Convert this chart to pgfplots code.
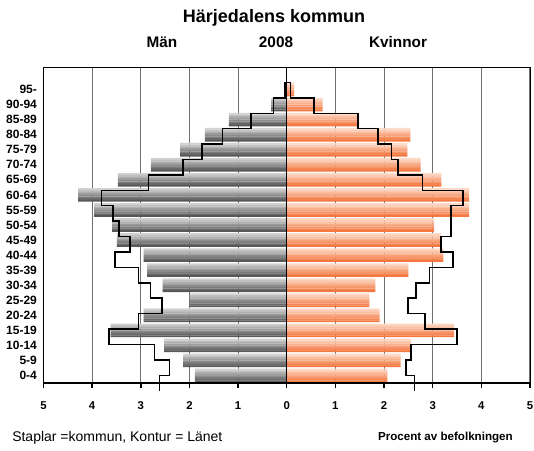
\documentclass[border=0pt]{standalone}
\usepackage{pgfplots}
\usepackage{pgfplotstable}
\pgfplotsset{compat=1.18}
\usepackage{fontspec}
\setmainfont{Liberation Sans}
\definecolor{gridgray}{HTML}{707070}
\definecolor{mtop}{HTML}{D2D2D2}
\definecolor{mbot}{HTML}{585858}
\definecolor{wtop}{HTML}{FDDAC8}
\definecolor{wbot}{HTML}{F47840}
% kommun: men (negative) and women, per age band (0 = 0-4 ... 19 = 95-)
\pgfplotstableread{
pos m w
0 -1.89 2.07
1 -2.13 2.34
2 -2.52 2.55
3 -3.62 3.44
4 -2.94 1.91
5 -1.99 1.70
6 -2.55 1.82
7 -2.87 2.50
8 -2.94 3.22
9 -3.49 3.17
10 -3.59 3.03
11 -3.96 3.75
12 -4.29 3.75
13 -3.47 3.18
14 -2.79 2.75
15 -2.19 2.48
16 -1.68 2.54
17 -1.19 1.49
18 -0.32 0.74
19 -0.01 0.15
}\pyr
% one horizontal stripe of every bar: #1 shift, #2 percent of top colour, #3 column, #4 top colour, #5 bottom colour
\newcommand{\stripe}[5]{\addplot[xbar, draw=none, bar width=0.118, bar shift=#1, fill=#4!#2!#5] table[x=#3, y=pos] {\pyr};}
\newcommand{\gradbars}[3]{%
  \stripe{0.39375}{100}{#1}{#2}{#3}
  \stripe{0.28125}{86}{#1}{#2}{#3}
  \stripe{0.16875}{71}{#1}{#2}{#3}
  \stripe{0.05625}{57}{#1}{#2}{#3}
  \stripe{-0.05625}{43}{#1}{#2}{#3}
  \stripe{-0.16875}{29}{#1}{#2}{#3}
  \stripe{-0.28125}{14}{#1}{#2}{#3}
  \stripe{-0.39375}{0}{#1}{#2}{#3}
}
\begin{document}
\begin{tikzpicture}[x=1pt,y=1pt]
\useasboundingbox (0,0) rectangle (400.5,337.5);
\begin{axis}[
  at={(32.6pt,50.25pt)}, anchor=south west,
  scale only axis, width=364.9pt, height=237pt,
  xmin=-5, xmax=5, ymin=-0.5, ymax=20.5,
  xtick={-5,-4,-3,-2,-1,0,1,2,3,4,5},
  xticklabels={5,4,3,2,1,0,1,2,3,4,5},
  ytick={0,1,2,3,4,5,6,7,8,9,10,11,12,13,14,15,16,17,18,19},
  yticklabels={0-4,5-9,10-14,15-19,20-24,25-29,30-34,35-39,40-44,45-49,50-54,55-59,60-64,65-69,70-74,75-79,80-84,85-89,90-94,95-},
  xmajorgrids, grid style={gridgray, line width=0.8pt},
  axis line style={black, line width=0.6pt},
  xtick pos=bottom, ytick pos=left, tick align=outside,
  major tick length=3.75pt,
  xtick style={black, line width=1.1pt},
  ytick style={draw=none},
  xticklabel style={font=\bfseries\fontsize{8.5}{9}\selectfont, yshift=-7pt},
  yticklabel style={font=\bfseries\fontsize{9}{9}\selectfont, inner sep=1pt},
]
\gradbars{m}{mtop}{mbot}
\gradbars{w}{wtop}{wbot}
\addplot[black, line width=0.8pt] coordinates {(0,-0.5) (0,20.5)};
\draw[black, line width=1.5pt] (rel axis cs:0,0) -- (rel axis cs:1,0);
\end{axis}
\begin{axis}[
  at={(32.6pt,50.25pt)}, anchor=south west,
  scale only axis, width=364.9pt, height=237pt,
  xmin=-5, xmax=5, ymin=0, ymax=20.5,
  axis lines=none, clip=false,
]
% Länet outline
\addplot[black, line width=1.1pt, line join=miter] coordinates {
(-2.62,-0.5)(-2.62,0.5)(-2.41,0.5)(-2.41,1.5)(-2.72,1.5)(-2.72,2.5)(-3.65,2.5)(-3.65,3.5)(-3.05,3.5)(-3.05,4.5)
(-2.56,4.5)(-2.56,5.5)(-2.80,5.5)(-2.80,6.5)(-3.05,6.5)(-3.05,7.5)(-3.53,7.5)(-3.53,8.5)(-3.22,8.5)(-3.22,9.5)
(-3.45,9.5)(-3.45,10.5)(-3.57,10.5)(-3.57,11.5)(-3.81,11.5)(-3.81,12.5)(-2.84,12.5)(-2.84,13.5)(-2.13,13.5)(-2.13,14.5)
(-1.74,14.5)(-1.74,15.5)(-1.32,15.5)(-1.32,16.5)(-0.73,16.5)(-0.73,17.5)(-0.27,17.5)(-0.27,18.5)(-0.04,18.5)(-0.04,19.5)
(0.08,19.5)(0.08,18.5)(0.56,18.5)(0.56,17.5)(1.46,17.5)(1.46,16.5)(1.88,16.5)(1.88,15.5)(2.15,15.5)(2.15,14.5)
(2.29,14.5)(2.29,13.5)(2.79,13.5)(2.79,12.5)(3.62,12.5)(3.62,11.5)(3.38,11.5)(3.38,9.5)(3.17,9.5)(3.17,8.5)
(3.42,8.5)(3.42,7.5)(2.93,7.5)(2.93,6.5)(2.66,6.5)(2.66,5.5)(2.49,5.5)(2.49,4.5)(2.84,4.5)(2.84,3.5)
(3.50,3.5)(3.50,2.5)(2.55,2.5)(2.55,1.5)(2.45,1.5)(2.45,0.5)(2.63,0.5)(2.63,-0.5)};
\end{axis}
\node[font=\bfseries\fontsize{13.5}{15}\selectfont] at (205.5,324) {Härjedalens kommun};
\node[font=\bfseries\fontsize{11.5}{13}\selectfont] at (121.5,306) {Män};
\node[font=\bfseries\fontsize{11.5}{13}\selectfont] at (207,306) {2008};
\node[font=\bfseries\fontsize{11.5}{13}\selectfont] at (298.5,306) {Kvinnor};
\node[anchor=west, inner sep=0pt, font=\fontsize{10.5}{12}\selectfont] at (9,9) {Staplar =kommun, Kontur = Länet};
\node[anchor=east, inner sep=0pt, font=\bfseries\fontsize{8.7}{10}\selectfont] at (384.75,9) {Procent av befolkningen};
\end{tikzpicture}
\end{document}
